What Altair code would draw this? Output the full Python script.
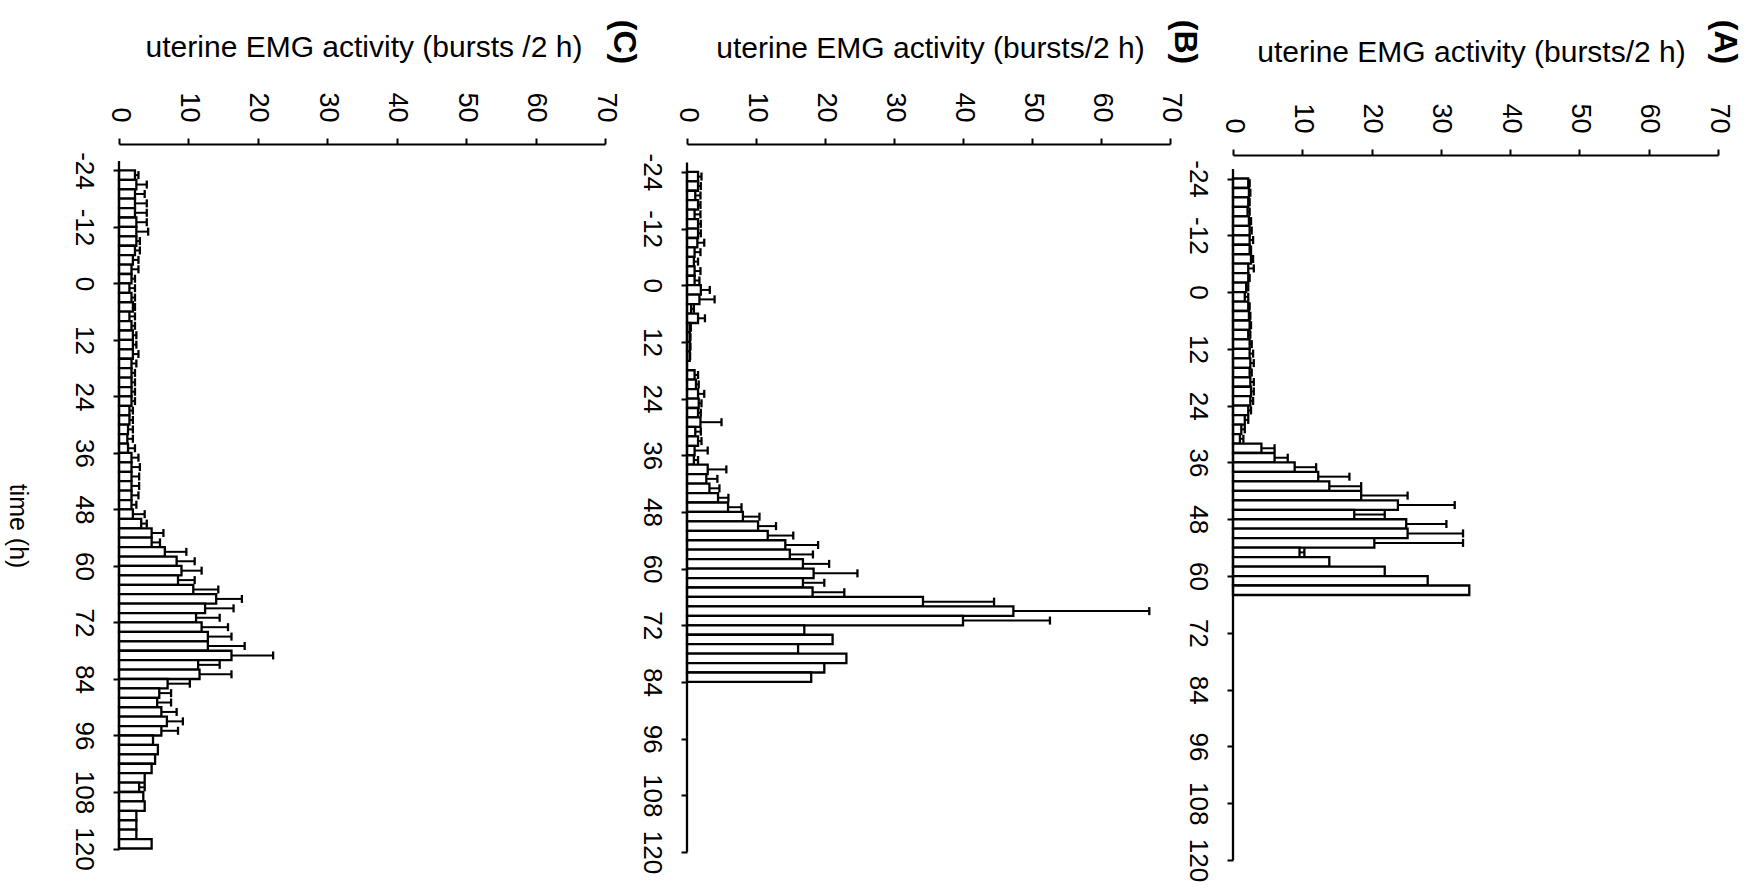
import altair as alt
import pandas as pd

# ---- panel A: bursts per 2 h bin (bin start hour), mean and upper error ----
hours_a = list(range(-24, 64, 2))
bursts_a = [2.2, 2.3, 2.2, 2.1, 2.3, 2.4, 2.4, 2.4, 2.6, 2.2, 2.2, 1.9, 1.7, 2.2,
            2.3, 2.4, 2.2, 2.4, 2.4, 2.5, 2.4, 2.5, 2.6, 2.5, 2.2, 1.7, 1.2, 1.0,
            4.1, 6.0, 8.9, 12.3, 13.9, 18.5, 23.8, 17.5, 25.0, 25.2, 20.4, 9.6,
            13.9, 21.9, 28.1, 34.1]
upper_a = [2.4, 2.5, 2.4, 2.4, 2.6, 2.7, 2.9, 2.6, 2.9, 3.0, 2.4, 2.2, 2.2, 2.4,
           2.5, 2.6, 2.5, 2.7, 2.9, 3.0, 2.7, 3.0, 3.0, 2.9, 2.6, 2.2, 1.7, 1.5,
           6.0, 7.9, 12.0, 16.8, 18.5, 25.2, 32.0, 21.9, 30.8, 33.2, 33.2, 10.3,
           13.9, 21.9, 28.1, 34.1]

# ---- panel B ----
hours_b = list(range(-24, 84, 2))
bursts_b = [1.6, 1.6, 1.2, 1.6, 1.1, 1.6, 1.6, 1.5, 1.1, 1.0, 1.1, 1.1, 2.0, 1.8,
            0.6, 1.6, 0.4, 0.4, 0.4, 0.4, 0.0, 1.1, 1.3, 1.6, 1.7, 1.6, 1.95, 1.2,
            1.6, 1.1, 1.0, 3.0, 2.8, 3.25, 4.5, 5.95, 8.1, 10.3, 11.7, 14.25,
            14.9, 16.8, 18.35, 16.8, 18.2, 34.2, 47.3, 40.0, 17.0, 21.1, 16.1,
            23.1, 19.9, 18.0]
upper_b = [2.1, 2.0, 1.95, 1.95, 1.95, 2.0, 2.0, 2.5, 1.95, 1.6, 1.95, 1.8, 3.3,
           4.0, 1.0, 2.6, 0.55, 0.5, 0.5, 0.45, 0.0, 1.6, 1.7, 2.5, 2.1, 2.0, 5.0,
           2.0, 2.1, 3.0, 1.6, 5.7, 4.4, 4.7, 6.0, 7.9, 10.5, 12.9, 15.4, 19.0,
           18.25, 20.6, 24.7, 19.9, 22.8, 44.5, 67.0, 52.6, 17.0, 21.1, 16.1,
           23.1, 19.9, 18.0]

# ---- panel C ----
hours_c = list(range(-24, 120, 2))
bursts_c = [2.3, 2.5, 2.3, 2.3, 2.3, 2.5, 2.5, 2.5, 2.3, 2.0, 1.8, 1.8, 1.5, 1.8,
            2.0, 1.5, 1.8, 2.0, 2.0, 2.0, 1.8, 1.8, 1.8, 1.8, 1.8, 1.5, 1.5, 1.3,
            1.2, 1.3, 1.8, 1.8, 1.8, 1.8, 1.8, 1.8, 2.0, 3.2, 4.7, 4.7, 6.6, 8.3,
            9.0, 8.5, 10.7, 14.0, 12.4, 11.1, 11.9, 12.8, 12.8, 16.2, 11.4, 11.6,
            7.0, 5.8, 5.5, 6.1, 6.9, 6.1, 4.9, 5.6, 5.2, 4.7, 3.7, 2.9, 3.5, 3.7,
            2.5, 2.5, 2.5, 4.7]
upper_c = [2.8, 4.0, 3.7, 4.0, 4.0, 4.0, 4.2, 3.0, 3.0, 2.8, 2.8, 2.3, 2.3, 2.3,
           2.3, 2.3, 2.3, 2.5, 2.5, 2.8, 2.5, 2.3, 2.3, 2.3, 2.3, 2.0, 2.0, 2.0,
           2.0, 2.3, 2.8, 3.0, 2.9, 2.9, 2.8, 2.5, 3.7, 4.0, 6.4, 5.9, 9.7, 10.9,
           11.9, 10.9, 14.3, 17.7, 16.5, 14.5, 15.7, 16.2, 18.1, 22.2, 14.5, 16.2,
           10.2, 7.5, 7.5, 8.3, 9.2, 8.5, 4.9, 5.6, 5.2, 4.7, 3.7, 3.7, 3.5, 3.7,
           2.5, 2.5, 2.5, 4.7]

value_ticks = list(range(0, 80, 10))
time_ticks = list(range(-24, 132, 12))

FONT = "Liberation Sans"
BIN = 2


def panel(hours, vals, upper, title, tag, width, height, t_top, x_offset,
          tag_dx, title_dx, title_dy, time_title=False):
    df = pd.DataFrame({
        "t": hours,
        "t2": [h + BIN for h in hours],
        "tm": [h + BIN / 2 for h in hours],
        "cap0": [h + 0.15 for h in hours],
        "cap1": [h + BIN - 0.15 for h in hours],
        "v": vals,
        "e": upper,
    })
    err = df[df["e"] > df["v"]]

    xs = alt.Scale(domain=[0, 70], nice=False, zero=True)
    ys = alt.Scale(domain=[t_top, 120], nice=False, zero=False, reverse=True)

    x_axis = alt.Axis(orient="top", values=value_ticks, labelAngle=90,
                      labelAlign="right", labelBaseline="middle",
                      labelFontSize=27, labelFont=FONT, labelColor="black",
                      labelPadding=16, tickSize=6, tickWidth=2,
                      tickColor="black", domainWidth=2, domainColor="black",
                      offset=x_offset, grid=False, title=None,
                      labelExpr="datum.value")
    y_axis = alt.Axis(orient="left", values=time_ticks, labelAngle=90,
                      labelAlign="center", labelBaseline="top",
                      labelFontSize=26, labelFont=FONT, labelColor="black",
                      labelPadding=17, tickSize=6, tickWidth=2,
                      tickColor="black", domain=False, grid=False, title=None,
                      labelExpr="datum.value")

    bars = alt.Chart(df).mark_rect(fill="white", stroke="black",
                                   strokeWidth=2.3).encode(
        x=alt.X("v:Q", scale=xs, axis=x_axis),
        x2=alt.datum(0),
        y=alt.Y("t:Q", scale=ys, axis=y_axis),
        y2="t2:Q",
    )
    whisker = alt.Chart(err).mark_rule(color="black", strokeWidth=2).encode(
        x="v:Q", x2="e:Q", y="tm:Q")
    cap = alt.Chart(err).mark_rule(color="black", strokeWidth=2.3).encode(
        x="e:Q", y="cap0:Q", y2="cap1:Q")
    time_line = alt.Chart(pd.DataFrame({"a": [0]})).mark_rule(
        color="black", strokeWidth=2.3).encode(
        x=alt.datum(0), y=alt.datum(-26), y2=alt.datum(120))

    head = alt.Chart(pd.DataFrame({"s": [title]})).mark_text(
        font=FONT, fontSize=30, color="black", align="center",
        baseline="middle").encode(
        text="s:N", x=alt.value(width / 2 + title_dx), y=alt.value(title_dy))
    letter = alt.Chart(pd.DataFrame({"s": [tag]})).mark_text(
        font=FONT, fontSize=32, fontWeight="bold", color="black", angle=90,
        align="center", baseline="middle").encode(
        text="s:N", x=alt.value(width + tag_dx), y=alt.value(-119))

    layers = [bars, whisker, cap, time_line, head, letter]
    if time_title:
        tt = alt.Chart(pd.DataFrame({"s": ["time (h)"]})).mark_text(
            font=FONT, fontSize=25, color="black", angle=90, align="center",
            baseline="middle").encode(
            text="s:N", x=alt.value(-101), y=alt.value(365))
        layers.append(tt)

    return alt.layer(*layers).properties(width=width, height=height)


def gap(width):
    # empty column that only reserves horizontal room between panels
    return alt.Chart(pd.DataFrame({"s": [""]})).mark_text().encode(
        text="s:N", x=alt.value(0), y=alt.value(0)
    ).properties(width=width, height=10)


chart_c = panel(hours_c, bursts_c, upper_c,
                "uterine EMG activity (bursts /2 h)", "(C)",
                486, 687.5, -26.0, 17, 19, 2, -113, time_title=True)
chart_b = panel(hours_b, bursts_b, upper_b,
                "uterine EMG activity (bursts/2 h)", "(B)",
                483, 691, -26.3, 17, 15, 2, -112)
chart_a = panel(hours_a, bursts_a, upper_a,
                "uterine EMG activity (bursts/2 h)", "(A)",
                485, 699, -27.7, 6, 7, -4, -108)

chart = alt.hconcat(chart_c, gap(82), chart_b, gap(63), chart_a,
                    spacing=0, bounds="flush").properties(
    padding={"left": 5, "top": 19, "right": 5, "bottom": 5},
    background="white",
).configure_view(strokeWidth=0, stroke="transparent")

chart.save("out.html", embed_options={"renderer": "svg", "actions": False})
